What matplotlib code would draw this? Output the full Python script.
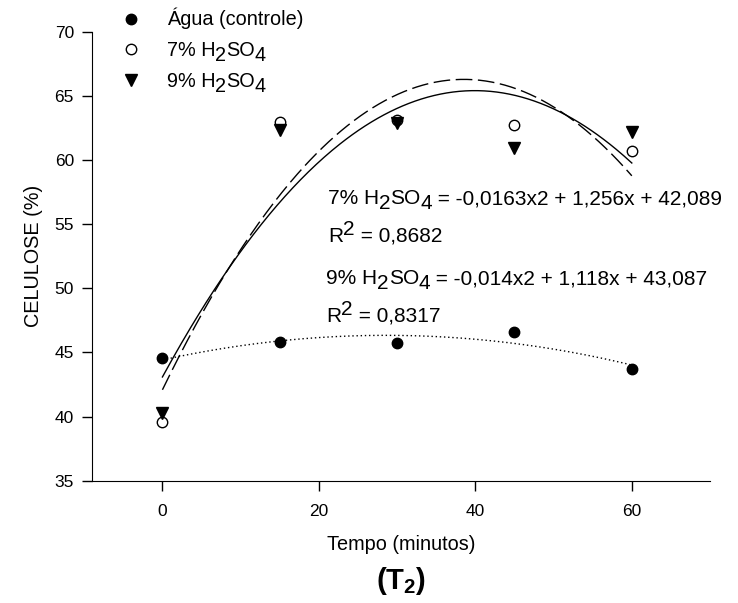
import numpy as np
import matplotlib
matplotlib.use("Agg")
import matplotlib.pyplot as plt

plt.rcParams['font.family'] = ['Liberation Sans', 'DejaVu Sans']
plt.rcParams['mathtext.fontset'] = 'custom'
plt.rcParams['mathtext.rm'] = 'Liberation Sans'
plt.rcParams['mathtext.it'] = 'Liberation Sans:italic'
plt.rcParams['mathtext.bf'] = 'Liberation Sans:bold'

tempo = [0, 15, 30, 45, 60]
agua = [44.56, 45.8, 45.75, 46.57, 43.68]
h2so4_7 = [39.6, 63.0, 63.1, 62.75, 60.7]
h2so4_9 = [40.3, 62.35, 62.85, 60.9, 62.15]

coef_7 = [-0.0163, 1.256, 42.089]
coef_9 = [-0.014, 1.118, 43.087]

xticks = [0, 20, 40, 60]
yticks = [35, 40, 45, 50, 55, 60, 65, 70]

FS = 14.3
FS_EQ = 15

fig = plt.figure(figsize=(7.38, 6.03), dpi=100)
ax = fig.add_axes([0.1247, 0.2028, 0.8374, 0.7446])

xf = np.linspace(0, 60, 300)
coef_agua = np.polyfit(tempo, agua, 2)
ax.plot(xf, np.polyval(coef_agua, xf), color='black', lw=1.0, ls=(0, (1, 2)))
ax.plot(xf, np.polyval(coef_7, xf), color='black', lw=1.0, ls=(0, (12, 4)))
ax.plot(xf, np.polyval(coef_9, xf), color='black', lw=1.0, ls='-')

h1, = ax.plot(tempo, agua, 'o', color='black', ms=7.5, ls='none')
h2, = ax.plot(tempo, h2so4_7, 'o', mfc='white', mec='black', mew=1.0, ms=7.5, ls='none')
h3, = ax.plot(tempo, h2so4_9, 'v', color='black', ms=8, ls='none')

ax.set_xlim(-9, 70)
ax.set_ylim(35, 70)
ax.set_xticks(xticks)
ax.set_yticks(yticks)
ax.spines['top'].set_visible(False)
ax.spines['right'].set_visible(False)
ax.tick_params(direction='out', length=7, width=1, labelsize=12.5)
ax.tick_params(axis='x', pad=10)
ax.tick_params(axis='y', pad=6)
ax.set_xlabel('Tempo (minutos)', fontsize=FS, va='center')
ax.set_ylabel('CELULOSE (%)', fontsize=FS, va='center')
ax.xaxis.set_label_coords(0.5, -0.143)
ax.yaxis.set_label_coords(-0.094, 0.5)


def chain(first, pieces, fs, **kw):
    """Continue text after `first` with pieces of (string, dy_pixels)."""
    prev = first
    prev_dy = 0
    for s, dy in pieces:
        prev = ax.annotate(s, xy=(1, 0), xycoords=prev, xytext=(0, dy - prev_dy),
                           textcoords='offset pixels', va='bottom', ha='left',
                           fontsize=fs, annotation_clip=False, **kw)
        prev_dy = dy
    return prev


SUB = -5
SUP = 7

t = ax.text(21.15, 56.57, '7% H', fontsize=FS_EQ, va='baseline', ha='left')
chain(t, [('2', SUB), ('SO', 0), ('4', SUB), (' = -0,0163x2 + 1,256x + 42,089', 0)], FS_EQ)
t = ax.text(21.15, 53.63, 'R', fontsize=FS_EQ, va='baseline', ha='left')
chain(t, [('2', SUP), (' = 0,8682', 0)], FS_EQ)
t = ax.text(20.9, 50.33, '9% H', fontsize=FS_EQ, va='baseline', ha='left')
chain(t, [('2', SUB), ('SO', 0), ('4', SUB), (' = -0,014x2 + 1,118x + 43,087', 0)], FS_EQ)
t = ax.text(20.9, 47.39, 'R', fontsize=FS_EQ, va='baseline', ha='left')
chain(t, [('2', SUP), (' = 0,8317', 0)], FS_EQ)

leg = fig.legend(handles=[h1, h2, h3], labels=['Água (controle)', '7% H', '9% H'],
                 loc='upper left', bbox_to_anchor=(0.1586, 0.9934),
                 frameon=False, fontsize=FS, handletextpad=1.3, labelspacing=0.6,
                 handlelength=1.0, borderaxespad=0, borderpad=0.2)
texts = leg.get_texts()
chain(texts[1], [('2', SUB), ('SO', 0), ('4', SUB)], FS)
chain(texts[2], [('2', SUB), ('SO', 0), ('4', SUB)], FS)

fig.text(0.544, 1 - 581 / 603, r'(T$_\mathbf{2}$)', fontsize=21, fontweight='bold',
         ha='center', va='center')

fig.canvas.draw()
fig.savefig('out.png', dpi=100)
